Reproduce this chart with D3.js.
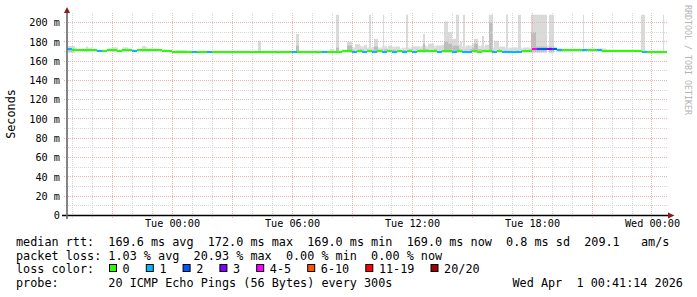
<!DOCTYPE html>
<html><head><meta charset="utf-8">
<script src="https://cdn.jsdelivr.net/npm/d3@7"></script>
<style>
html,body{margin:0;padding:0;background:#fff;}
svg{display:block;}
text{font-family:"DejaVu Sans Mono",monospace;white-space:pre;}
</style></head><body>
<svg id="chart" width="697" height="297"></svg>
<script>
// ---- data ----
const startTime = new Date(2026, 2, 30, 18, 45);
const spanHours = 30;
const stepMinutes = 15;

const medianMs = [
  172.5,171.5,171,171,171,171,170.5,170.5,171,171,
  170.5,171,171,170.5,171,171,171.5,171.5,171.5,170.5,
  170.5,169.5,169.5,169.5,169.5,169.5,169.5,169.5,169.5,169.5,
  169.5,169.5,169.5,169.5,169.5,169.5,169.5,169.5,169.5,169.5,
  169.5,169.5,169.5,169.5,169.5,169.5,169.5,169.5,169.5,169.5,
  169.5,169.5,169.5,169.5,169.5,170,170.5,169.5,170,169.5,
  170,169.5,170,169.5,170.5,169.5,170,169.5,170,169.5,
  170,170,170.5,170,169.5,170,170.5,169.5,170,169.5,
  169.5,170,169.5,170,170.5,169.5,170,169.5,169.5,169.5,
  169.5,170,170,173,173,173,173,172.5,171.5,171,
  171,171,171,171,171,171,171,170.5,170.5,170.5,
  170.5,170.5,170.5,170.5,170.5,169.5,169,169,169,169
];
const lossIndex = [
  1,0,0,0,0,0,1,0,0,0,
  0,0,0,1,0,0,0,0,0,0,
  0,0,0,0,0,1,0,0,1,0,
  0,0,0,0,0,0,0,0,0,0,
  0,0,0,0,0,1,0,0,0,0,
  0,1,0,0,0,0,0,1,0,1,
  0,1,0,1,0,1,0,1,0,1,
  0,0,0,0,1,0,0,1,0,1,
  1,0,0,0,0,1,0,1,1,1,
  1,0,0,4,2,2,3,2,1,0,
  0,0,0,1,0,0,1,0,0,0,
  0,0,0,0,0,1,0,0,0,0
];
const hazeMs = [
  175.5,174,172,173,174,172,172,172,173,174,
  172,174,172,172,172,175,173,173,172,172,
  170.5,170.5,171.5,171.5,170.5,170.5,170.5,170.5,170.5,170.5,
  170.5,170.5,170.5,170.5,170.5,170.5,170.5,170.5,170.5,170.5,
  170.5,170.5,170.5,170.5,170.5,170.5,170.5,170.5,170.5,170.5,
  170.5,170.5,170.5,170.5,170.5,172,173,174,176,175,
  174,175,174,176,174,175,173,174,174,175,
  175,176,175,176,176,177,178,176,177,175,
  176,178,176,175,176,174,175,174,173,174,
  174,173,174,176,176,176,176,175,173,172,
  172,172,172,172,172,172,173,172.5,172,172,
  172,172,172,172,172,171,170.5,170.5,170.5,170.5
];
// smoke spikes: minutes after start, top ping (ms), darker core top (ms, 0 = none)
const spikeStart = [3,57,138,168,225,324,573,687,789,807,840,864,891,906,921,948,963,987,1017,1035,1068,1083,1110,1131,1143,1155,1167,1179,1188,1197,1221,1245,1254,1266,1281,1299,1317,1326,1353,1368,1392,1407,1446,1467,1548,1599,1722,1788];
const spikeEnd   = [24,63,153,183,234,351,582,696,801,816,855,879,900,912,933,951,975,999,1023,1059,1074,1101,1131,1143,1155,1167,1176,1185,1194,1209,1233,1251,1266,1278,1296,1314,1323,1350,1362,1383,1407,1440,1461,1485,1551,1617,1734,1791];
const spikeTop   = [175.5,175,174,174,175.5,171.5,181,188,172.5,208,180,177.5,176.5,208,183,208,176,175,208,175,188,178,176,201,190,183,208,180,208,176,183,186,177,208,181,175,208,174,208,174,208,208,208,173,208,173,208,208];
const spikeCore  = [173,0,0,0,0,0,0,176,0,174,176,0,0,0,175,0,0,0,0,0,178,0,0,180,178,176,176,0,0,0,178,0,0,200,0,0,0,0,0,0,190,175,175,0,0,0,0,0];

const yTicks = [0,20,40,60,80,100,120,140,160,180,200];
const lossLabels = ["0","1","2","3","4-5","6-10","11-19","20/20"];
const lossColors = ["#26ff00","#00b8ff","#0059ff","#7e00ff","#ff00ff","#ff5500","#ff0000","#a10000"];
const statsLines = [
  "median rtt:  169.6 ms avg  172.0 ms max  169.0 ms min  169.0 ms now  0.8 ms sd  209.1   am/s",
  "packet loss: 1.03 % avg  20.93 % max  0.00 % min  0.00 % now"
];
const lossTitle = "loss color:";
const probeText = "probe:       20 ICMP Echo Pings (56 Bytes) every 300s";
const dateText = "Wed Apr  1 00:41:14 2026";
const yTitle = "Seconds";
const watermark = "RRDTOOL / TOBI OETIKER";

// ---- drawing ----
const svg = d3.select("#chart");
const endTime = d3.timeHour.offset(startTime, spanHours);
const x = d3.scaleTime().domain([startTime, endTime]).range([67, 667]);
const y = d3.scaleLinear().domain([0, 210]).range([215.5, 12.8]);
const tAt = m => d3.timeMinute.offset(startTime, m);
const px = v => Math.floor(v) + 0.5;

// haze near median
const haze = svg.append("g");
medianMs.forEach((m, i) => {
  const x0 = x(tAt(i * stepMinutes)), x1 = x(tAt((i + 1) * stepMinutes));
  const top = hazeMs[i];
  if (top > m + 1) {
    haze.append("rect").attr("x", x0).attr("width", x1 - x0)
      .attr("y", y(top)).attr("height", y(m - 1) - y(top)).attr("fill", "#e0e0e0");
    if (top - m > 3) {
      const core = m + (top - m) * 0.45;
      haze.append("rect").attr("x", x0).attr("width", x1 - x0)
        .attr("y", y(core)).attr("height", y(m - 0.5) - y(core)).attr("fill", "#c4c4c4");
    }
  }
});
// spikes
const spikes = svg.append("g");
spikeStart.forEach((s, i) => {
  const x0 = x(tAt(s)), x1 = x(tAt(spikeEnd[i]));
  const w = Math.max(1, x1 - x0);
  spikes.append("rect").attr("x", x0).attr("width", w)
    .attr("y", y(spikeTop[i])).attr("height", y(169) - y(spikeTop[i])).attr("fill", "#dadada");
  if (spikeCore[i] > 0) {
    spikes.append("rect").attr("x", x0).attr("width", w)
      .attr("y", y(spikeCore[i])).attr("height", y(169) - y(spikeCore[i])).attr("fill", "#bdbdbd");
  }
});

// grid
const grid = svg.append("g").attr("shape-rendering", "crispEdges");
const minorH = d3.range(10, 200, 20);
const majorH = yTicks.filter(v => v > 0);
const hourTicks = x.ticks(d3.timeHour.every(1));
const majorV = x.ticks(d3.timeHour.every(3)).map(d => +d);
grid.selectAll(".mh").data(minorH).join("line")
  .attr("x1", 64).attr("x2", 668).attr("y1", d => px(y(d))).attr("y2", d => px(y(d)))
  .attr("stroke", "#d6d6d6").attr("stroke-dasharray", "1,1");
grid.selectAll(".mv").data(hourTicks.filter(d => !majorV.includes(+d))).join("line")
  .attr("y1", 13).attr("y2", 218).attr("x1", d => px(x(d))).attr("x2", d => px(x(d)))
  .attr("stroke", "#d6d6d6").attr("stroke-dasharray", "1,1");
grid.selectAll(".Mh").data(majorH).join("line")
  .attr("x1", 64).attr("x2", 668).attr("y1", d => px(y(d))).attr("y2", d => px(y(d)))
  .attr("stroke", "#eeb4b4").attr("stroke-dasharray", "1,1");
grid.selectAll(".Mv").data(majorV).join("line")
  .attr("y1", 13).attr("y2", 218).attr("x1", d => px(x(d))).attr("x2", d => px(x(d)))
  .attr("stroke", "#eeb4b4").attr("stroke-dasharray", "1,1");

// median line coloured by loss
const med = svg.append("g").attr("shape-rendering", "crispEdges");
medianMs.forEach((m, i) => {
  const x0 = x(tAt(i * stepMinutes)), x1 = x(tAt((i + 1) * stepMinutes));
  med.append("rect").attr("x", x0).attr("width", x1 - x0)
    .attr("y", y(m) - 1).attr("height", 2).attr("fill", lossColors[lossIndex[i]]);
});

// axes lines + arrows
svg.append("line").attr("x1", 62).attr("x2", 669).attr("y1", 215.5).attr("y2", 215.5)
  .attr("stroke", "#000").attr("stroke-width", 1.6);
svg.append("line").attr("x1", 67).attr("x2", 67).attr("y1", 219).attr("y2", 11)
  .attr("stroke", "#666").attr("stroke-width", 1.6);
svg.append("path").attr("d", "M668,212.5L674.5,215.5L668,218.5Z").attr("fill", "#8b1a1a");
svg.append("path").attr("d", "M64,13L67,7L70,13Z").attr("fill", "#8b1a1a");

// axis labels via d3 axes
const yAxis = d3.axisLeft(y).tickValues(yTicks)
  .tickFormat(d => d === 0 ? "0" : d + " m").tickSize(0).tickPadding(0);
const gy = svg.append("g").attr("transform", "translate(60,0)").call(yAxis);
gy.select(".domain").remove();
gy.selectAll("text").attr("font-family", "DejaVu Sans Mono").attr("font-size", 10.2).attr("fill", "#000");

const xAxis = d3.axisBottom(x).tickValues(x.ticks(d3.timeHour.every(6)))
  .tickFormat(d3.timeFormat("%a %H:%M")).tickSize(0).tickPadding(5);
const gx = svg.append("g").attr("transform", "translate(0,215)").call(xAxis);
gx.select(".domain").remove();
gx.selectAll("text").attr("font-family", "DejaVu Sans Mono").attr("font-size", 10.2).attr("fill", "#000");

// titles
svg.append("text").attr("transform", "translate(15,114) rotate(-90)")
  .attr("text-anchor", "middle").attr("font-size", 11.8).attr("fill", "#000").text(yTitle);
svg.append("text").attr("transform", "translate(684.5,5) rotate(90)")
  .attr("font-size", 8.3).attr("fill", "#b4b4b4").text(watermark);

// legend
const fs = 11.8, lx = 16;
const rows = [245.8, 259.6, 273.4, 287.2];
statsLines.forEach((s, i) => {
  svg.append("text").attr("x", lx).attr("y", rows[i]).attr("font-size", fs)
    .attr("xml:space", "preserve").text(s);
});
svg.append("text").attr("x", lx).attr("y", rows[2]).attr("font-size", fs).text(lossTitle);
let bx = 109;
lossLabels.forEach((lab, i) => {
  svg.append("rect").attr("x", bx + 0.5).attr("y", 264.5).attr("width", 7).attr("height", 7)
    .attr("fill", lossColors[i]).attr("stroke", "#000").attr("stroke-width", 1);
  svg.append("text").attr("x", bx + 13.6).attr("y", rows[2]).attr("font-size", fs).text(lab);
  bx += 29.7 + 7.1 * lab.length;
});
svg.append("text").attr("x", lx).attr("y", rows[3]).attr("font-size", fs)
  .attr("xml:space", "preserve").text(probeText);
svg.append("text").attr("x", 512.5).attr("y", rows[3]).attr("font-size", fs)
  .attr("xml:space", "preserve").text(dateText);
</script>
</body></html>
